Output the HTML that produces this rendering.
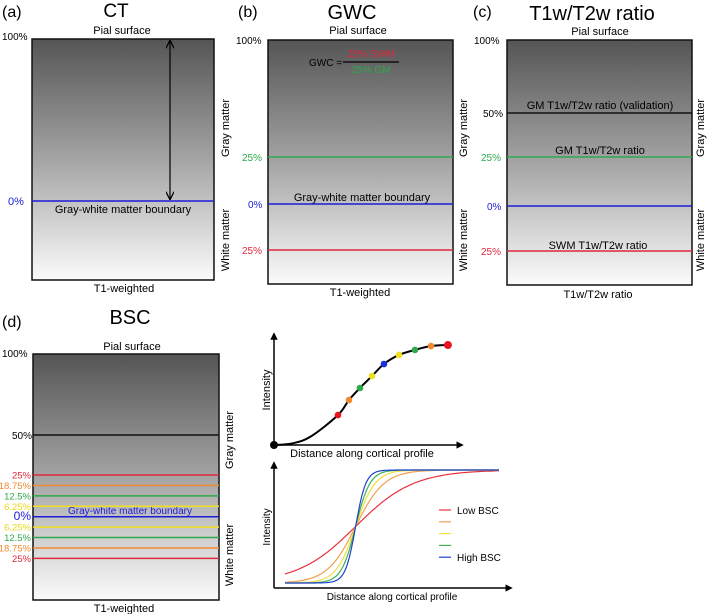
<!DOCTYPE html>
<html><head><meta charset="utf-8"><style>
html,body{margin:0;padding:0;background:#fff;}
svg{display:block;font-family:"Liberation Sans",sans-serif;}
</style></head><body>
<svg id="fig" width="709" height="614" viewBox="0 0 709 614" xmlns="http://www.w3.org/2000/svg">
<defs>
<linearGradient id="g" x1="0" y1="0" x2="0" y2="1"><stop offset="0" stop-color="#555"/><stop offset="0.5" stop-color="#a4a4a4"/><stop offset="1" stop-color="#fbfbfb"/></linearGradient>
<marker id="ah" viewBox="0 0 10 10" refX="9" refY="5" markerWidth="7" markerHeight="7" orient="auto-start-reverse"><path d="M0,0 L10,5 L0,10" fill="none" stroke="#000" stroke-width="1.5"/></marker>
<marker id="tri" viewBox="0 0 10 10" refX="5" refY="5" markerWidth="5" markerHeight="5" orient="auto"><path d="M0,0 L10,5 L0,10 z" fill="#000"/></marker>
</defs>

<g>
<text x="2" y="17" font-size="16">(a)</text>
<text x="116" y="17" font-size="19" text-anchor="middle">CT</text>
<text x="122" y="34" font-size="11" text-anchor="middle">Pial surface</text>
<rect x="32" y="39" width="182" height="241" fill="url(#g)" stroke="#111" stroke-width="1.5"/>
<text x="2" y="40" font-size="10">100%</text>
<line x1="32" y1="201" x2="214" y2="201" stroke="#1c1cd8" stroke-width="1.5"/>
<text x="8" y="205" font-size="11" fill="#1c1cd8">0%</text>
<text x="123" y="213" font-size="11" text-anchor="middle">Gray-white matter boundary</text>
<line x1="170" y1="41" x2="170" y2="199" stroke="#000" stroke-width="1.2" marker-start="url(#ah)" marker-end="url(#ah)"/>
<text x="124" y="292" font-size="11" text-anchor="middle">T1-weighted</text>
<text transform="translate(229,128) rotate(-90)" font-size="11" text-anchor="middle">Gray matter</text>
<text transform="translate(229,240) rotate(-90)" font-size="11" text-anchor="middle">White matter</text>
</g>

<g>
<text x="238" y="17" font-size="16">(b)</text>
<text x="352" y="19" font-size="20" text-anchor="middle">GWC</text>
<text x="358" y="34" font-size="11" text-anchor="middle">Pial surface</text>
<rect x="268" y="40" width="185" height="244" fill="url(#g)" stroke="#111" stroke-width="1.5"/>
<text x="236" y="44" font-size="10">100%</text>
<text x="309" y="66" font-size="10">GWC =</text>
<line x1="343" y1="62" x2="399" y2="62" stroke="#000" stroke-width="1.2"/>
<text x="371" y="57" font-size="10" fill="#e0283c" text-anchor="middle">25% SWM</text>
<text x="371" y="73" font-size="10" fill="#2ea84a" text-anchor="middle">25% GM</text>
<line x1="268" y1="157" x2="453" y2="157" stroke="#2ea84a" stroke-width="1.5"/>
<text x="242" y="161" font-size="10" fill="#2ea84a">25%</text>
<line x1="268" y1="204" x2="453" y2="204" stroke="#1c1cd8" stroke-width="1.5"/>
<text x="248" y="208" font-size="10" fill="#1c1cd8">0%</text>
<text x="362" y="201" font-size="11" text-anchor="middle">Gray-white matter boundary</text>
<line x1="268" y1="250" x2="453" y2="250" stroke="#e0283c" stroke-width="1.5"/>
<text x="242" y="254" font-size="10" fill="#e0283c">25%</text>
<text x="360" y="296" font-size="11" text-anchor="middle">T1-weighted</text>
<text transform="translate(467,128) rotate(-90)" font-size="11" text-anchor="middle">Gray matter</text>
<text transform="translate(467,240) rotate(-90)" font-size="11" text-anchor="middle">White matter</text>
</g>

<g>
<text x="473" y="17" font-size="16">(c)</text>
<text x="592" y="20" font-size="20" text-anchor="middle">T1w/T2w ratio</text>
<text x="600" y="35" font-size="11" text-anchor="middle">Pial surface</text>
<rect x="507" y="40" width="185" height="245" fill="url(#g)" stroke="#111" stroke-width="1.5"/>
<text x="474" y="44" font-size="10">100%</text>
<line x1="507" y1="113" x2="692" y2="113" stroke="#111" stroke-width="1.5"/>
<text x="483" y="117" font-size="10">50%</text>
<text x="600" y="109" font-size="11" text-anchor="middle">GM T1w/T2w ratio (validation)</text>
<line x1="507" y1="157" x2="692" y2="157" stroke="#2ea84a" stroke-width="1.5"/>
<text x="481" y="161" font-size="10" fill="#2ea84a">25%</text>
<text x="600" y="154" font-size="11" text-anchor="middle">GM T1w/T2w ratio</text>
<line x1="507" y1="206" x2="692" y2="206" stroke="#1c1cd8" stroke-width="1.5"/>
<text x="487" y="210" font-size="10" fill="#1c1cd8">0%</text>
<line x1="507" y1="251" x2="692" y2="251" stroke="#e0283c" stroke-width="1.5"/>
<text x="481" y="255" font-size="10" fill="#e0283c">25%</text>
<text x="598" y="249" font-size="11" text-anchor="middle">SWM T1w/T2w ratio</text>
<text x="598" y="298" font-size="11" text-anchor="middle">T1w/T2w ratio</text>
<text transform="translate(704,128) rotate(-90)" font-size="11" text-anchor="middle">Gray matter</text>
<text transform="translate(704,240) rotate(-90)" font-size="11" text-anchor="middle">White matter</text>
</g>

<g id="pd">
<text x="2" y="327" font-size="16">(d)</text>
<text x="130" y="324" font-size="20" text-anchor="middle">BSC</text>
<text x="132" y="350" font-size="11" text-anchor="middle">Pial surface</text>
<rect x="33" y="354" width="186" height="246" fill="url(#g)" stroke="#111" stroke-width="1.5"/>
<text x="2" y="357" font-size="10">100%</text>
<line x1="33" y1="435" x2="219" y2="435" stroke="#111" stroke-width="1.5"/>
<text x="12" y="439" font-size="10">50%</text>
<text x="130" y="514" font-size="10" fill="#1c1cd8" text-anchor="middle">Gray-white matter boundary</text>
<text x="124" y="612" font-size="11" text-anchor="middle">T1-weighted</text>
<text transform="translate(233,440) rotate(-90)" font-size="11" text-anchor="middle">Gray matter</text>
<text transform="translate(233,555) rotate(-90)" font-size="11" text-anchor="middle">White matter</text>
</g>

<g id="topplot">
<line x1="274" y1="445" x2="274" y2="336" stroke="#000" stroke-width="1.5" marker-end="url(#tri)"/>
<line x1="274" y1="445" x2="460" y2="445" stroke="#000" stroke-width="1.5" marker-end="url(#tri)"/>
<text transform="translate(270,390) rotate(-90)" font-size="11" text-anchor="middle">Intensity</text>
<text x="362" y="457" font-size="11" text-anchor="middle">Distance along cortical profile</text>
</g>

<g id="botplot">
<line x1="274" y1="588" x2="274" y2="465" stroke="#000" stroke-width="1.5" marker-end="url(#tri)"/>
<line x1="274" y1="588" x2="509" y2="588" stroke="#000" stroke-width="1.5" marker-end="url(#tri)"/>
<text transform="translate(270,527) rotate(-90)" font-size="10" text-anchor="middle">Intensity</text>
<text x="392" y="600" font-size="10" text-anchor="middle">Distance along cortical profile</text>
</g>
</svg>
<script>
// Panel d depth lines
const depthLabels = ["25%","18.75%","12.5%","6.25%","0%","6.25%","12.5%","18.75%","25%"];
const depthValues = [25,18.75,12.5,6.25,0,-6.25,-12.5,-18.75,-25];
const depthColors = ["#e0283c","#f08a30","#2ea84a","#f0e020","#1c1cd8","#f0e020","#2ea84a","#f08a30","#e0283c"];
// Top plot dots (x: % distance, y: % intensity)
const dotX = [0,34.4,40.3,46.2,52.7,59.1,67.2,75.8,84.4,93.5];
const dotY = [0,27.5,41.3,52.3,63.3,74.3,82.6,87.2,90.8,91.7];
const dotColors = ["#000","#e8141e","#f08a30","#2ea84a","#f0e020","#1a2ee0","#f0e020","#2ea84a","#f08a30","#e8141e"];
const curveX = [0,10,20,34.4,40.3,46.2,52.7,59.1,67.2,75.8,84.4,93.5];
const curveY = [0,1.5,8,27.5,41.3,52.3,63.3,74.3,82.6,87.2,90.8,91.7];
// Bottom plot: steepness of each BSC series
const seriesNames = ["Low BSC","","","","High BSC"];
const seriesSteep = [7.4,15,22,30,42];
const seriesColors = ["#e8323c","#f0a050","#f0e040","#40b050","#2040d0"];

const NS="http://www.w3.org/2000/svg";
function mk(tag,attrs,parent){const e=document.createElementNS(NS,tag);for(const k in attrs)e.setAttribute(k,attrs[k]);parent.appendChild(e);return e;}

const pdG=document.getElementById('pd');
const dY=v=>516.7 - v*(41.7/25);
depthValues.forEach((v,i)=>{
  const l=mk('line',{x1:33,x2:219,y1:dY(v),y2:dY(v),stroke:depthColors[i],'stroke-width':1.5},pdG);
  
  
  const t=mk('text',{x:31,y:dY(v)+3.5,'font-size':v===0?12:9.5,fill:depthColors[i]==="#f0e020"?"#e8d818":depthColors[i],'text-anchor':'end'},pdG);
  t.textContent=depthLabels[i];
  
  
});

const topG=document.getElementById('topplot');
const tx=v=>274+v*1.86, ty=v=>445-v*1.09;
const pts=curveX.map((x,i)=>[tx(x),ty(curveY[i])]);
let d="M"+pts[0][0]+","+pts[0][1];
for(let i=0;i<pts.length-1;i++){
  const p0=pts[i-1]||pts[i],p1=pts[i],p2=pts[i+1],p3=pts[i+2]||pts[i+1];
  d+=` C${p1[0]+(p2[0]-p0[0])/6},${p1[1]+(p2[1]-p0[1])/6} ${p2[0]-(p3[0]-p1[0])/6},${p2[1]-(p3[1]-p1[1])/6} ${p2[0]},${p2[1]}`;
}
const cp=mk('path',{d:d,fill:'none',stroke:'#000','stroke-width':2},topG);


dotX.forEach((x,i)=>{
  const c=mk('circle',{cx:tx(x),cy:ty(dotY[i]),r:(i===0||i===9)?4:3.3,fill:dotColors[i]},topG);
  
  
});

const botG=document.getElementById('botplot');
const bx=v=>285+v*214, by=v=>583-v*113;
const center=0.33;
seriesSteep.forEach((k,i)=>{
  let s="";
  for(let j=0;j<=100;j++){const u=j/100;const y=1/(1+Math.exp(-k*(u-center)));s+=(j?"L":"M")+bx(u).toFixed(1)+","+by(y).toFixed(1);}
  const p=mk('path',{d:s,fill:'none',stroke:seriesColors[i],'stroke-width':1.2},botG);
  
  
  const ly=510+i*11.8;
  const l=mk('line',{x1:439,x2:451,y1:ly,y2:ly,stroke:seriesColors[i],'stroke-width':1.2},botG);
  
  
  if(seriesNames[i]){
    const t=mk('text',{x:457,y:ly+4,'font-size':10},botG);
    t.textContent=seriesNames[i];
    
    
  }
});
</script>
</body></html>
